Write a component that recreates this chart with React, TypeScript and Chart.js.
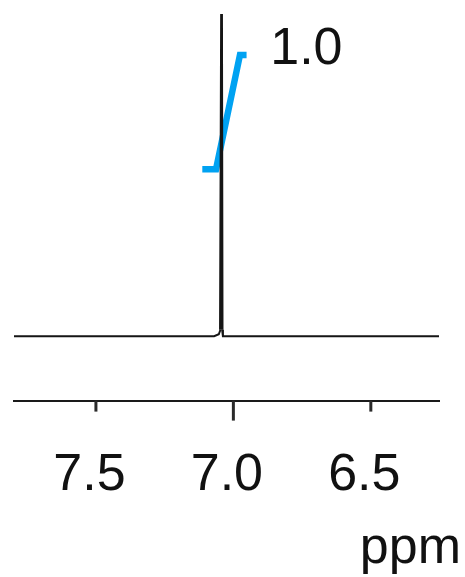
import React, { useEffect, useRef } from "react";
import { Chart, registerables } from "chart.js";

Chart.register(...registerables);

// Spectrum (chemical shift in ppm, relative intensity)
const spectrumPpm = [7.8, 7.07, 7.053, 7.047, 7.043, 7.041, 7.038, 6.25];
const spectrumIntensity = [0, 0, 0.006, 0.02, 1.0, 0.02, 0, 0];

// Integral curve
const integralPpm = [7.113, 7.063, 6.976, 6.952];
const integralValue = [0.518, 0.518, 0.873, 0.873];
const integralLabel = "1.0";
const integralLabelPpm = 6.866;
const integralLabelValue = 0.845;

// Axis
const tickValues = [6.5, 7.0, 7.5];
const tickLabels = ["6.5", "7.0", "7.5"];
const majorTick = 7.0;
const axisUnit = "ppm";
const xMin = 6.252;
const xMax = 7.798;

const FONT = "'Liberation Sans', Arial, sans-serif";

export default function App() {
  const ref = useRef<HTMLCanvasElement | null>(null);

  useEffect(() => {
    if (!ref.current) return;
    const overlay = {
      id: "nmrOverlay",
      afterDraw(chart: any) {
        const { ctx, chartArea, scales } = chart;
        const xs = scales.x;
        const ys = scales.y;
        ctx.save();
        // tick marks
        ctx.strokeStyle = "#2a2a2a";
        ctx.lineWidth = 3;
        tickValues.forEach((v) => {
          const px = xs.getPixelForValue(v);
          const len = v === majorTick ? 20 : 11;
          ctx.beginPath();
          ctx.moveTo(px, chartArea.bottom);
          ctx.lineTo(px, chartArea.bottom + len);
          ctx.stroke();
        });
        // integral label
        ctx.fillStyle = "#111";
        ctx.font = `52px ${FONT}`;
        ctx.textAlign = "left";
        ctx.textBaseline = "alphabetic";
        ctx.fillText(
          integralLabel,
          xs.getPixelForValue(integralLabelPpm),
          ys.getPixelForValue(integralLabelValue)
        );
        // unit label
        ctx.textAlign = "right";
        ctx.fillText(axisUnit, chart.width - 4, chart.height - 14);
        ctx.restore();
      },
    };

    const chart = new Chart(ref.current, {
      type: "line",
      data: {
        datasets: [
          {
            data: spectrumPpm.map((x, i) => ({ x, y: spectrumIntensity[i] })),
            borderColor: "#151515",
            borderWidth: 2,
            segment: {
              borderWidth: (c: any) =>
                c.p0.parsed.y > 0.1 || c.p1.parsed.y > 0.1 ? 2.8 : 2,
            },
            pointRadius: 0,
            tension: 0,
            fill: false,
          },
          {
            data: integralPpm.map((x, i) => ({ x, y: integralValue[i] })),
            borderColor: "#00a2f2",
            borderWidth: 6.5,
            borderJoinStyle: "miter",
            borderCapStyle: "butt",
            pointRadius: 0,
            tension: 0,
            fill: false,
          },
        ],
      },
      options: {
        responsive: false,
        animation: false,
        events: [],
        layout: { padding: { left: 14, right: 26, top: 14, bottom: 46 } },
        plugins: {
          legend: { display: false },
          tooltip: { enabled: false },
        },
        scales: {
          x: {
            type: "linear",
            reverse: true,
            min: xMin,
            max: xMax,
            afterBuildTicks: (scale: any) => {
              scale.ticks = tickValues.map((v) => ({ value: v }));
            },
            grid: {
              display: true,
              drawOnChartArea: false,
              drawTicks: true,
              tickLength: 20,
              tickColor: "rgba(0,0,0,0)",
            },
            border: { display: true, color: "#1a1a1a", width: 2 },
            ticks: {
              padding: 24,
              labelOffset: -6.5,
              maxRotation: 0,
              color: "#111",
              font: { size: 52, family: FONT },
              callback: (v: any) => {
                const i = tickValues.indexOf(Number(v));
                return i >= 0 ? tickLabels[i] : "";
              },
            },
            title: { display: false },
          },
          y: {
            display: false,
            min: -0.2,
            max: 1.0,
          },
        },
      } as any,
      plugins: [overlay],
    });
    return () => chart.destroy();
  }, []);

  return (
    <div style={{ position: "absolute", left: 0, top: 0, width: 465, height: 577, background: "#fff" }}>
      <canvas ref={ref} width={465} height={577} style={{ display: "block" }} />
    </div>
  );
}
